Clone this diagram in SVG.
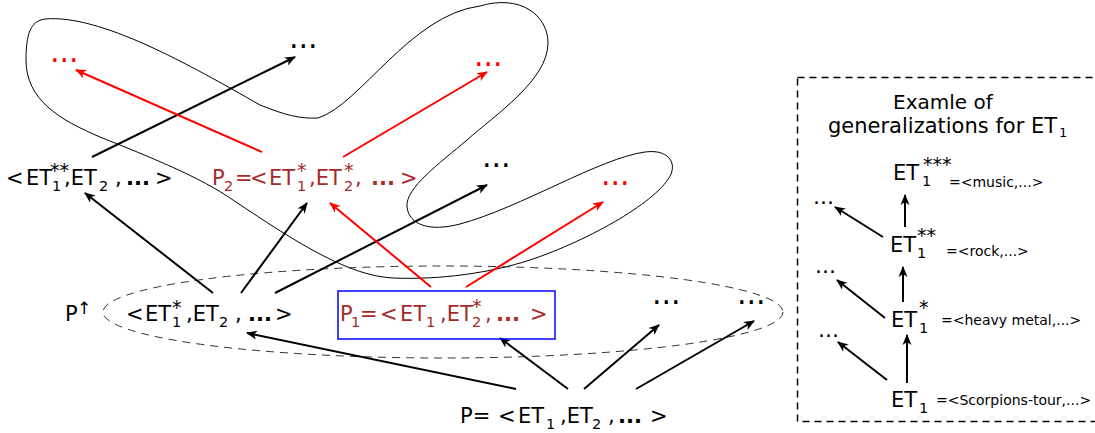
<svg xmlns="http://www.w3.org/2000/svg" width="1095" height="433" viewBox="0 0 1095 433">
<style>
text{font-family:"DejaVu Sans","Liberation Sans",sans-serif;font-size:21px;fill:#000}
.br{fill:#a52a2a}
.sub{font-size:14.5px}
.sup{font-size:19px}
.el{font-weight:bold}
.dd{font-size:30px}
.dr{font-size:30px;fill:#f00}
.rd{font-size:22px}
.sm{font-size:14px}
.tt{font-size:20px}
.k{stroke:#000;stroke-width:2;fill:none;marker-end:url(#ak)}
.r{stroke:#f00;stroke-width:2;fill:none;marker-end:url(#ar)}
</style>
<defs>
<marker id="ak" viewBox="-11 -5 12 10" refX="0" refY="0" markerWidth="12" markerHeight="10" markerUnits="userSpaceOnUse" orient="auto"><path d="M1,0 L-10,-4.5 L-7,0 L-10,4.5 Z" fill="#000"/></marker>
<marker id="ar" viewBox="-11 -5 12 10" refX="0" refY="0" markerWidth="12" markerHeight="10" markerUnits="userSpaceOnUse" orient="auto"><path d="M1,0 L-10,-4.5 L-7,0 L-10,4.5 Z" fill="#f00"/></marker>
</defs>
<rect width="1095" height="433" fill="#fff"/>

<g id="cluster-curve">
<path d="M45,19 C100,14 190,65 260,105 C285,115 300,119 318,118 C360,105 410,15 480,6 C520,-6 548,15 548,43 C548,80 495,115 467,140 C440,163 405,188 407,207 C409,225 430,232 460,224 C520,208 600,158 645,152 C668,149 676,162 671,174 C660,200 590,240 530,260 C490,273 440,280 393,278 C350,276 300,245 233,200 C200,177 150,157 100,137 C60,120 26,100 26,60 C26,35 30,21 45,19 Z" fill="none" stroke="#000" stroke-width="1"/>
</g>
<g id="p-up-ellipse">
<ellipse cx="443" cy="312" rx="340" ry="46" fill="none" stroke="#333" stroke-width="1" stroke-dasharray="8 6"/>
</g>
<g id="example-box">
<rect x="797.5" y="77.5" width="320" height="344" fill="none" stroke="#000" stroke-width="1.5" stroke-dasharray="7 5"/>
</g>

<g id="connectors">
<line class="k" x1="92" y1="157" x2="295" y2="57"/>
<line class="k" x1="213" y1="293" x2="85" y2="193"/>
<line class="k" x1="241" y1="293" x2="307" y2="203"/>
<line class="k" x1="275" y1="293" x2="487" y2="185"/>
<line class="k" x1="516" y1="389" x2="247" y2="333"/>
<line class="k" x1="568" y1="389" x2="500" y2="338"/>
<line class="k" x1="584" y1="389" x2="659" y2="325"/>
<line class="k" x1="636" y1="389" x2="754" y2="321"/>
<line class="r" x1="262" y1="152" x2="76" y2="70"/>
<line class="r" x1="343" y1="157" x2="487" y2="72"/>
<line class="r" x1="431" y1="287" x2="330" y2="203"/>
<line class="r" x1="466" y1="287" x2="603" y2="202"/>
<line class="k" x1="905" y1="227" x2="905" y2="195"/>
<line class="k" x1="883" y1="237" x2="835" y2="207"/>
<line class="k" x1="903" y1="302" x2="903" y2="267"/>
<line class="k" x1="885" y1="318" x2="837" y2="280"/>
<line class="k" x1="907" y1="383" x2="907" y2="335"/>
<line class="k" x1="887" y1="380" x2="838" y2="342"/>
</g>

<g id="node-et1ss">
<text><tspan x="6" y="185">&lt;</tspan><tspan x="26" y="185">ET</tspan><tspan class="sub" x="52" y="191">1</tspan><tspan class="sup" x="50" y="177">**</tspan><tspan x="64" y="185">,ET</tspan><tspan class="sub" x="99" y="191">2</tspan><tspan x="115" y="185">,</tspan><tspan class="el" x="126" y="185">...</tspan><tspan x="155" y="185">&gt;</tspan></text>
</g>
<g id="node-p2">
<text class="br"><tspan x="212" y="185">P</tspan><tspan class="sub" x="224" y="191">2</tspan><tspan x="235" y="185">=</tspan><tspan x="250" y="185">&lt;</tspan><tspan x="269" y="185">ET</tspan><tspan class="sub" x="297" y="191">1</tspan><tspan class="sup" x="297" y="177">*</tspan><tspan x="309" y="185">,ET</tspan><tspan class="sub" x="344" y="191">2</tspan><tspan class="sup" x="344" y="177">*</tspan><tspan x="355" y="185">,</tspan><tspan class="el" x="371" y="185">...</tspan><tspan x="400" y="185">&gt;</tspan></text>
</g>
<g id="node-pup">
<text><tspan x="65" y="321">P</tspan><tspan x="77" y="314" style="font-size:17px">↑</tspan></text>
</g>
<g id="node-et1s">
<text><tspan x="126" y="321">&lt;</tspan><tspan x="145" y="321">ET</tspan><tspan class="sub" x="172" y="327">1</tspan><tspan class="sup" x="172" y="314">*</tspan><tspan x="186" y="321">,ET</tspan><tspan class="sub" x="219" y="327">2</tspan><tspan x="235" y="321">,</tspan><tspan class="el" x="248" y="321">...</tspan><tspan x="275" y="321">&gt;</tspan></text>
</g>
<g id="node-p1">
<rect x="338" y="291" width="217" height="48" fill="none" stroke="#00f" stroke-width="1.5"/>
<text class="br"><tspan x="340" y="321">P</tspan><tspan class="sub" x="351" y="327">1</tspan><tspan x="360" y="321">=</tspan><tspan x="380" y="321">&lt;</tspan><tspan x="400" y="321">ET</tspan><tspan class="sub" x="426" y="327">1</tspan><tspan x="440" y="321">,ET</tspan><tspan class="sub" x="472" y="327">2</tspan><tspan class="sup" x="472" y="313">*</tspan><tspan x="485" y="321">,</tspan><tspan class="el" x="496" y="321">...</tspan><tspan x="530" y="321">&gt;</tspan></text>
</g>
<g id="node-p">
<text><tspan x="460" y="423">P=</tspan><tspan x="498" y="423">&lt;</tspan><tspan x="518" y="423">ET</tspan><tspan class="sub" x="546" y="429">1</tspan><tspan x="560" y="423">,ET</tspan><tspan class="sub" x="592" y="429">2</tspan><tspan x="608" y="423">,</tspan><tspan class="el" x="618" y="423">...</tspan><tspan x="650" y="423">&gt;</tspan></text>
</g>

<g id="dots-top"><text class="dd" x="289" y="48">...</text></g>
<g id="dots-red-left"><text class="dr" x="50" y="62">...</text></g>
<g id="dots-red-right"><text class="dr" x="474" y="66">...</text></g>
<g id="dots-mid"><text class="dd" x="482" y="167">...</text></g>
<g id="dots-red-mid"><text class="dr" x="601" y="185">...</text></g>
<g id="dots-ell-1"><text class="dd" x="652" y="304">...</text></g>
<g id="dots-ell-2"><text class="dd" x="737" y="304">...</text></g>

<g id="example-title">
<text class="tt"><tspan x="893" y="109">Examle of</tspan><tspan x="828" y="133" style="font-size:21px">generalizations for ET</tspan><tspan x="1059" y="137" style="font-size:13px">1</tspan></text>
</g>
<g id="ex-et1sss">
<text><tspan x="893" y="180">ET</tspan><tspan class="sub" x="922" y="186">1</tspan><tspan class="sup" x="923" y="171">***</tspan></text>
<text class="sm" x="949" y="187">=&lt;music,...&gt;</text>
</g>
<g id="ex-et1ss">
<text><tspan x="890" y="252">ET</tspan><tspan class="sub" x="917" y="258">1</tspan><tspan class="sup" x="917" y="242">**</tspan></text>
<text class="sm" x="946" y="256">=&lt;rock,...&gt;</text>
</g>
<g id="ex-et1s">
<text><tspan x="891" y="327">ET</tspan><tspan class="sub" x="919" y="333">1</tspan><tspan class="sup" x="919" y="314">*</tspan></text>
<text class="sm" x="941" y="325">=&lt;heavy metal,...&gt;</text>
</g>
<g id="ex-et1">
<text><tspan x="891" y="407">ET</tspan><tspan class="sub" x="919" y="413">1</tspan></text>
<text class="sm" x="936" y="405">=&lt;Scorpions-tour,...&gt;</text>
</g>
<g id="ex-dots-1"><text class="rd" x="813" y="204">...</text></g>
<g id="ex-dots-2"><text class="rd" x="815" y="273">...</text></g>
<g id="ex-dots-3"><text class="rd" x="818" y="337">...</text></g>
</svg>
